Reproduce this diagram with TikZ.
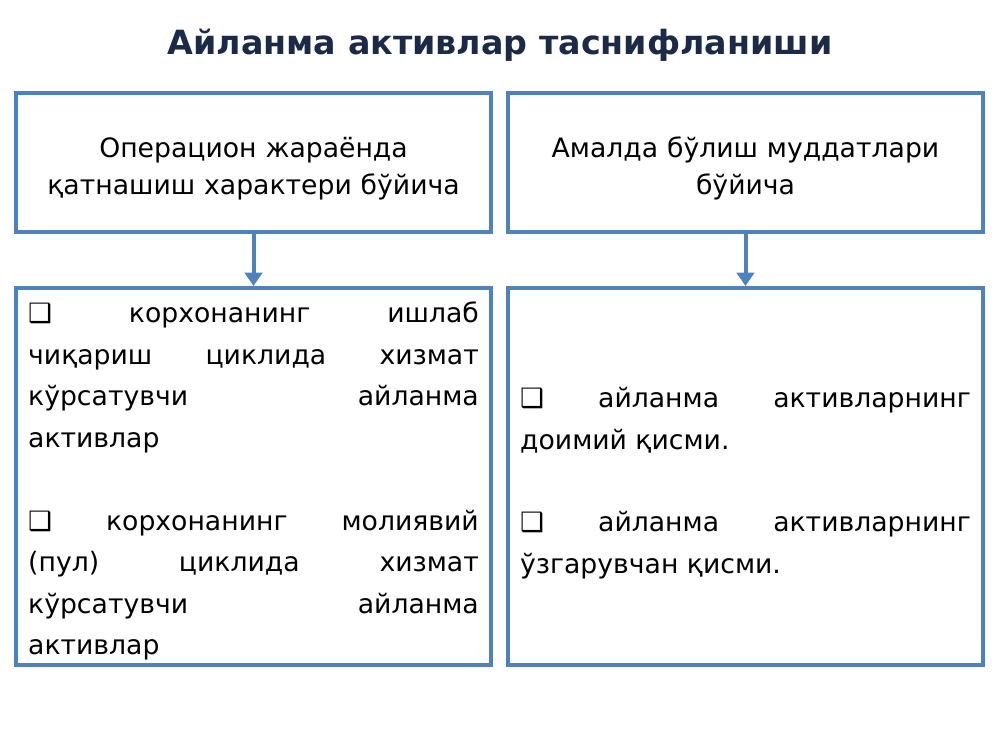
\documentclass[tikz,border=0pt]{standalone}
\usepackage{fontspec}
\setmainfont{DejaVu Sans}
\usetikzlibrary{arrows.meta, positioning}
\definecolor{boxblue}{HTML}{4F81BD}
\definecolor{titlenavy}{HTML}{1B2A47}

\begin{document}
\begin{tikzpicture}[
        node distance=39pt and 9.75pt,
        box/.style={draw=boxblue, line width=3pt, minimum width=356.25pt, inner sep=0pt},
        headbox/.style={box, minimum height=104.25pt, text width=345pt, align=center, font=\fontsize{20}{27.75}\selectfont},
        listbox/.style={box, minimum height=282.75pt, text width=338pt, align=justify, font=\fontsize{20}{31.1}\selectfont},
        arrow/.style={-{Triangle[width=13pt, length=10pt]}, line width=3pt, draw=boxblue}
    ]
    \useasboundingbox (0,0) rectangle (750pt,-562.5pt);

    \node (title) at (375pt,-33.75pt) [text=titlenavy, font=\bfseries\fontsize{25}{30}\selectfont] {Айланма активлар таснифланиши};

    \node (opbox) at (10.5pt,-68.25pt) [headbox, anchor=north west] {Операцион жараёнда\\қатнашиш характери бўйича\par\kern-9pt};
    \node (termbox) [headbox, right=of opbox] {Амалда бўлиш муддатлари\\бўйича\par\kern-9pt};
    \node (oplist) [listbox, below=of opbox] {❑ корхонанинг ишлаб\linebreak
        чиқариш циклида хизмат\linebreak
        кўрсатувчи айланма\linebreak
        активлар\par\vspace{31.1pt}
        ❑ корхонанинг молиявий\linebreak
        (пул) циклида хизмат\linebreak
        кўрсатувчи айланма\linebreak
        активлар\par\kern-7pt};
    \node (termlist) [listbox, below=of termbox] {❑ айланма активларнинг\linebreak
        доимий қисми.\par\vspace{31.1pt}
        ❑ айланма активларнинг\linebreak
        ўзгарувчан қисми.\par\kern-10pt};

    \draw [arrow] (opbox) -- (oplist);
    \draw [arrow] (termbox) -- (termlist);

    \end{tikzpicture}
\end{document}
